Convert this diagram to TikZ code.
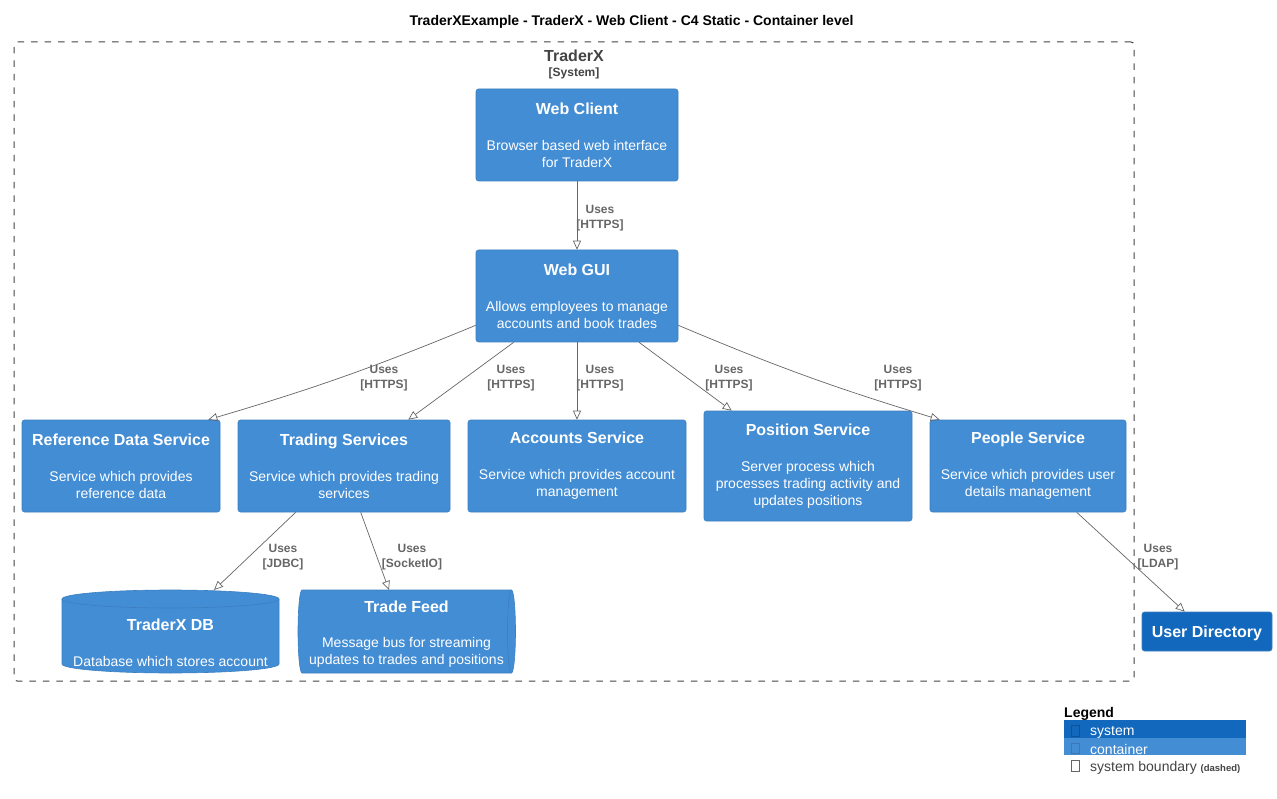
\documentclass[tikz,border=0pt]{standalone}
\usepackage{fontspec}
\setmainfont{Liberation Sans}
\usetikzlibrary{arrows.meta,calc}
\definecolor{cont}{HTML}{438DD5}
\definecolor{contb}{HTML}{3C7FC0}
\definecolor{sys}{HTML}{1168BD}
\definecolor{sysb}{HTML}{3C7FC0}
\definecolor{relc}{HTML}{666666}
\definecolor{bnd}{HTML}{444444}
\newcommand\ttl[1]{{\fontsize{16}{17}\selectfont\bfseries #1}}
\begin{document}
\begin{tikzpicture}[x=1pt,y=-1pt,
  box/.style={draw=contb, fill=cont, rounded corners=2.5pt, text=white, align=center, inner sep=0pt, font=\fontsize{14}{17}\selectfont, line width=0.6pt},
  sysbox/.style={box, draw=sysb, fill=sys},
  txt/.style={text=white, align=center, inner sep=0pt, font=\fontsize{14}{17}\selectfont},
  ghost/.style={inner sep=0pt, outer sep=0pt},
  cyl/.style={fill=cont, draw=contb, line width=0.6pt},
  rel/.style={draw=relc, line width=0.7pt, -{Triangle[open,length=9pt,width=8pt]}},
  lbl/.style={text=relc, font=\fontsize{12}{15}\selectfont\bfseries, align=center, inner sep=0pt},
  lgtxt/.style={anchor=west, inner sep=0pt, font=\fontsize{14}{17}\selectfont},
]
\useasboundingbox (0,0) rectangle (1277,799);
\fill[white] (0,0) rectangle (1277,799);

% title
\node[inner sep=0pt, font=\fontsize{14}{17}\selectfont\bfseries] (title) at (631.5,21.5) {TraderXExample - TraderX - Web Client - C4 Static - Container level};

% boundary
\node[draw=bnd, dash pattern=on 6.5pt off 7pt, rounded corners=3pt, line width=1pt, minimum width=1120pt, minimum height=639pt, inner sep=0pt] (bound) at (574,361.5) {};
\node[inner sep=0pt, text=bnd, font=\fontsize{16}{17}\selectfont\bfseries] (bname) at (574,55.5) {TraderX};
\node[inner sep=0pt, text=bnd, font=\fontsize{12}{14}\selectfont\bfseries] (btype) at (574,73) {[System]};

% containers
\node[box, minimum width=202pt, minimum height=92pt] (wc) at (577,135) {\ttl{Web Client}\\[19pt]Browser based web interface\\for TraderX};
\node[box, minimum width=202pt, minimum height=92pt] (wg) at (577,296) {\ttl{Web GUI}\\[19pt]Allows employees to manage\\accounts and book trades};
\node[box, minimum width=198pt, minimum height=92pt] (ref) at (121,466) {\ttl{Reference Data Service}\\[19pt]Service which provides\\reference data};
\node[box, minimum width=212pt, minimum height=92pt] (trd) at (344,466) {\ttl{Trading Services}\\[19pt]Service which provides trading\\services};
\node[box, minimum width=218pt, minimum height=92pt] (acc) at (577,466) {\ttl{Accounts Service}\\[19pt]Service which provides account\\management};
\node[box, minimum width=208pt, minimum height=110pt] (pos) at (808,466) {\ttl{Position Service}\\[19pt]Server process which\\processes trading activity and\\updates positions};
\node[box, minimum width=196pt, minimum height=92pt] (ppl) at (1028,466) {\ttl{People Service}\\[19pt]Service which provides user\\details management};
\node[sysbox, minimum width=130pt, minimum height=39pt, text height=12pt, text depth=0pt] (usr) at (1207,631.5) {\ttl{User Directory}};

% database
\filldraw[cyl] (62,599) arc[start angle=180,end angle=0,x radius=108.5pt,y radius=9pt] -- (279,664) arc[start angle=0,end angle=-180,x radius=108.5pt,y radius=9pt] -- cycle;
\draw[contb, line width=0.6pt] (62,599) arc[start angle=180,end angle=360,x radius=108.5pt,y radius=9pt];
\node[ghost, minimum width=217pt, minimum height=83pt] (db) at (170.5,631.5) {};
\node[txt] (dbt) at (170.5,625) {\ttl{TraderX DB}};
\node[txt] (dbd) at (170.5,661.5) {Database which stores account};

% queue
\filldraw[cyl] (302,590) -- (511.5,590) arc[start angle=90,end angle=-90,x radius=4pt,y radius=41.5pt] -- (302,673) arc[start angle=270,end angle=90,x radius=4pt,y radius=41.5pt] -- cycle;
\draw[contb, line width=0.6pt] (511.5,590) arc[start angle=90,end angle=270,x radius=4pt,y radius=41.5pt];
\node[ghost, minimum width=217pt, minimum height=83pt] (feed) at (406.5,631.5) {};
\node[txt] (feedt) at (406.5,607) {\ttl{Trade Feed}};
\node[txt] (feedd) at (406.5,652) {Message bus for streaming\\updates to trades and positions};

% relations
\draw[rel] (wc.south) -- (wg.north);
\draw[rel] ([yshift=17pt]wg.south west) to[bend left=3] ([xshift=-12pt]ref.north east);
\draw[rel] ([xshift=38pt]wg.south west) -- ([xshift=-42pt]trd.north east);
\draw[rel] (wg.south) -- (acc.north);
\draw[rel] ([xshift=62pt]wg.south) -- ([xshift=28pt]pos.north west);
\draw[rel] ([yshift=17pt]wg.south east) to[bend right=3] ([xshift=10pt]ppl.north west);
\draw[rel] ([xshift=58pt]trd.south west) -- ([xshift=152pt]db.north west);
\draw[rel] ([xshift=123pt]trd.south west) -- ([xshift=91pt]feed.north west);
\draw[rel] ([xshift=147pt]ppl.south west) -- ([xshift=43pt]usr.north west);

\node[lbl] (l1) at (600,218) {Uses\\{[HTTPS]}};
\node[lbl] (l2) at (384,378.5) {Uses\\{[HTTPS]}};
\node[lbl] (l3) at (511,378.5) {Uses\\{[HTTPS]}};
\node[lbl] (l4) at (600,378.5) {Uses\\{[HTTPS]}};
\node[lbl] (l5) at (729,378.5) {Uses\\{[HTTPS]}};
\node[lbl] (l6) at (898,378.5) {Uses\\{[HTTPS]}};
\node[lbl] (l7) at (283,557.5) {Uses\\{[JDBC]}};
\node[lbl] (l8) at (412,557.5) {Uses\\{[SocketIO]}};
\node[lbl] (l9) at (1158,557.5) {Uses\\{[LDAP]}};

% legend
\node[anchor=west, inner sep=0pt, font=\fontsize{14}{17}\selectfont\bfseries] (lgt) at (1064,713.5) {Legend};
\node[fill=sys, anchor=north west, minimum width=182pt, minimum height=17.5pt, inner sep=0pt] (lgs) at (1064,720) {};
\node[fill=cont, anchor=north west, minimum width=182pt, minimum height=17.5pt, inner sep=0pt] (lgc) at (1064,737.5) {};
\draw[sys!80!black, line width=0.6pt] (1071.5,725.5) rectangle (1079,736);
\draw[cont!85!black, line width=0.6pt] (1071.5,743) rectangle (1079,753.5);
\draw[relc, line width=0.7pt] (1071.5,760.5) rectangle (1079,771);
\node[lgtxt, text=white] (lgs1) at (1090,732) {system};
\node[lgtxt, text=white] (lgc1) at (1090,749.5) {container};
\node[lgtxt, text=bnd] (lgb1) at (1090,767.5) {system boundary {\fontsize{9.5}{11}\selectfont\bfseries (dashed)}};
\end{tikzpicture}
\end{document}
